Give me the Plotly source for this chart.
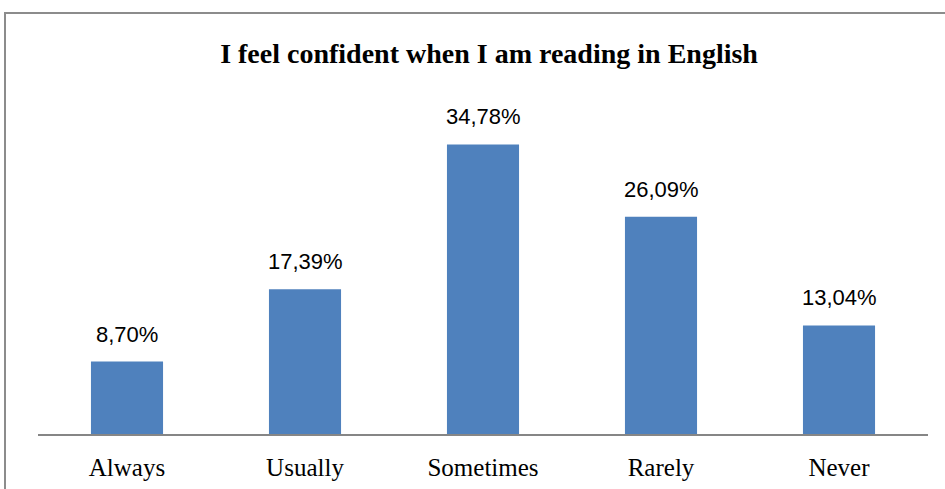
import plotly.graph_objects as go

categories = ["Always", "Usually", "Sometimes", "Rarely", "Never"]
values = [8.70, 17.39, 34.78, 26.09, 13.04]
labels = ["8,70%", "17,39%", "34,78%", "26,09%", "13,04%"]

fig = go.Figure()
fig.add_trace(go.Bar(
    x=categories, y=values,
    marker=dict(color="#4F81BD", line=dict(width=0)),
    width=0.405,
    hoverinfo="x+y",
))

for c, v, t in zip(categories, values, labels):
    fig.add_annotation(x=c, y=v, text=t, showarrow=False, xanchor="center", yanchor="bottom",
                       yshift=13,
                       font=dict(family="Liberation Sans, Arial, sans-serif", size=22, color="#000000"))

fig.update_layout(
    width=945, height=489,
    margin=dict(l=38, r=17, t=101, b=55),
    paper_bgcolor="white", plot_bgcolor="white",
    showlegend=False,
    title=dict(text="<b>I feel confident when I am reading in English</b>",
               x=0.5175, xanchor="center", y=1 - 53/489, yanchor="middle",
               font=dict(family="Liberation Serif, Times New Roman, serif", size=28, color="#000000")),
    xaxis=dict(showline=True, linecolor="#868686", linewidth=2, showgrid=False, automargin=False,
               ticks="outside", ticklen=10, tickcolor="rgba(0,0,0,0)",
               tickfont=dict(family="Liberation Serif, Times New Roman, serif", size=25, color="#000000")),
    yaxis=dict(range=[0, 40], visible=False, showgrid=False),
    bargap=0.6,
)

fig.add_shape(type="rect", xref="paper", yref="paper",
              x0=(5-38)/890, x1=(950-38)/890, y0=(434-495)/333, y1=(434-13)/333,
              line=dict(color="#8C8C8C", width=2), fillcolor="rgba(0,0,0,0)", layer="below")

fig.write_html("out.html")
